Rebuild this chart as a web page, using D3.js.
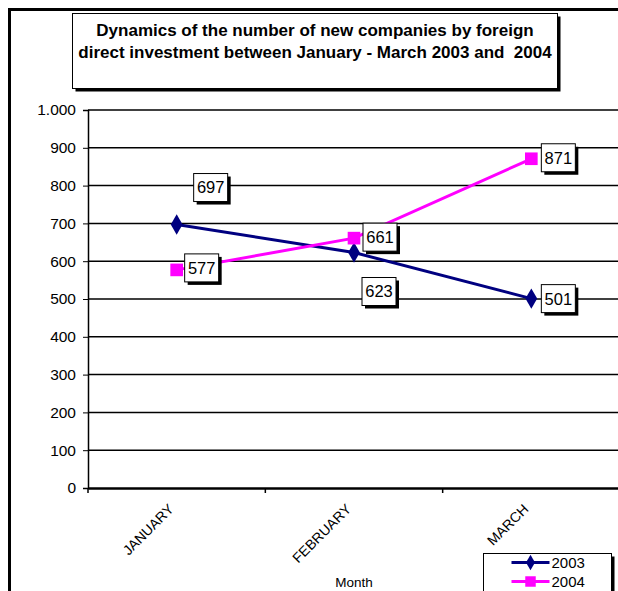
<!DOCTYPE html>
<html>
<head>
<meta charset="utf-8">
<script src="https://cdn.jsdelivr.net/npm/d3@7"></script>
<style>
  body { margin: 0; background: #fff; }
  svg { display: block; }
  svg text { font-family: "Liberation Sans", Arial, sans-serif; }
</style>
</head>
<body>
<div id="chart"></div>
<script>
// data
var months = ["JANUARY", "FEBRUARY", "MARCH"];
var values2003 = [697, 623, 501];
var values2004 = [577, 661, 871];
var yTicks = [0, 100, 200, 300, 400, 500, 600, 700, 800, 900, 1000];
var titleLines = ["Dynamics of the number of new companies by foreign",
                  "direct investment between January - March 2003 and  2004"];

const width = 618;
const height = 591;
const margin = { top: 110, bottom: 103, left: 88, right: -2 };

const series = [
  { name: "2003", values: values2003, color: "#000080", shape: d3.symbolDiamond,
    // label offsets (px) from the point, like the Excel picture
    offsets: [[34, -37], [25, 39], [27, 0]] },
  { name: "2004", values: values2004, color: "#FF00FF", shape: d3.symbolSquare,
    offsets: [[25, -2], [26, -1], [27, -1]] }
];

const svg = d3.select("#chart").append("svg")
  .attr("width", width)
  .attr("height", height);

// outer frame (cut off on the right / bottom)
svg.append("rect")
  .attr("x", 9.5).attr("y", 9.5)
  .attr("width", width + 20).attr("height", height + 20)
  .attr("fill", "none").attr("stroke", "#000").attr("stroke-width", 3);

const x = d3.scaleBand()
  .domain(months)
  .range([margin.left, width - margin.right]);

const y = d3.scaleLinear()
  .domain([0, 1000])
  .range([height - margin.bottom, margin.top]);

// gridlines
svg.append("g")
  .selectAll("line")
  .data(yTicks.filter(d => d > 0))
  .join("line")
    .attr("x1", margin.left).attr("x2", width)
    .attr("y1", d => y(d)).attr("y2", d => y(d))
    .attr("stroke", "#000").attr("stroke-width", 1.5);

// y axis
const yAxis = svg.append("g")
  .attr("transform", `translate(${margin.left},0)`)
  .call(d3.axisLeft(y).tickValues(yTicks).tickSize(5).tickPadding(7)
    .tickFormat(d => d === 1000 ? "1.000" : d3.format("d")(d)));
yAxis.attr("font-family", null);
yAxis.select(".domain").attr("stroke-width", 1.5);
yAxis.selectAll("text").attr("font-size", 15.5).attr("fill", "#000");

// x axis
const xAxis = svg.append("g")
  .attr("transform", `translate(0,${y(0)})`)
  .call(d3.axisBottom(x).tickSize(0).tickFormat(""));
xAxis.select(".domain").attr("stroke-width", 2.5);
// ticks at the band edges
svg.append("g")
  .selectAll("line")
  .data(months)
  .join("line")
    .attr("x1", d => x(d)).attr("x2", d => x(d))
    .attr("y1", y(0)).attr("y2", y(0) + 5)
    .attr("stroke", "#000").attr("stroke-width", 1.5);

svg.append("g")
  .selectAll("text")
  .data(months)
  .join("text")
    .attr("transform", d => `translate(${x(d) + x.bandwidth() / 2 - 2},${y(0) + 22}) rotate(-45)`)
    .attr("text-anchor", "end")
    .attr("font-size", 14)
    .text(d => d);

svg.append("text")
  .attr("x", x("FEBRUARY") + x.bandwidth() / 2)
  .attr("y", 587)
  .attr("text-anchor", "middle")
  .attr("font-size", 13.5)
  .text("Month");

// lines + markers
const line = d3.line()
  .x((d, i) => x(months[i]) + x.bandwidth() / 2)
  .y(d => y(d));

series.forEach(s => {
  svg.append("path")
    .datum(s.values)
    .attr("d", line)
    .attr("fill", "none")
    .attr("stroke", s.color)
    .attr("stroke-width", 3);

  svg.append("g")
    .selectAll("path")
    .data(s.values)
    .join("path")
      .attr("transform", (d, i) => `translate(${x(months[i]) + x.bandwidth() / 2},${y(d)})`)
      .attr("d", d3.symbol().type(s.shape).size(s.shape === d3.symbolSquare ? 160 : 120))
      .attr("fill", s.color);
});

// data labels (boxes with shadow)
series.forEach(s => {
  const g = svg.append("g")
    .selectAll("g")
    .data(s.values)
    .join("g")
      .attr("transform", (d, i) => `translate(${x(months[i]) + x.bandwidth() / 2 + s.offsets[i][0]},${y(d) + s.offsets[i][1]})`);
  const bw = 34, bh = 28;
  g.append("rect")
    .attr("x", -bw / 2 + 3).attr("y", -bh / 2 + 3)
    .attr("width", bw).attr("height", bh)
    .attr("fill", "#000");
  g.append("rect")
    .attr("x", -bw / 2).attr("y", -bh / 2)
    .attr("width", bw).attr("height", bh)
    .attr("fill", "#fff").attr("stroke", "#000").attr("stroke-width", 1);
  g.append("text")
    .attr("text-anchor", "middle")
    .attr("dy", "0.36em")
    .attr("font-size", 16.5)
    .text(d => d);
});

// title box
const tb = { x: 72.5, y: 13.5, w: 485, h: 75 };
svg.append("rect")
  .attr("x", tb.x + 3).attr("y", tb.y + 3)
  .attr("width", tb.w).attr("height", tb.h).attr("fill", "#000");
svg.append("rect")
  .attr("x", tb.x).attr("y", tb.y)
  .attr("width", tb.w).attr("height", tb.h)
  .attr("fill", "#fff").attr("stroke", "#000").attr("stroke-width", 1);
svg.append("g")
  .selectAll("text")
  .data(titleLines)
  .join("text")
    .attr("x", tb.x + tb.w / 2)
    .attr("y", (d, i) => 36 + i * 21.5)
    .attr("text-anchor", "middle")
    .attr("font-size", 17)
    .attr("font-weight", "bold")
    .text(d => d.replace(/  /g, "\u00a0 "));

// legend
const lg = svg.append("g").attr("transform", "translate(483.5,553.5)");
lg.append("rect").attr("x", 3).attr("y", 3).attr("width", 128).attr("height", 60).attr("fill", "#000");
lg.append("rect").attr("width", 128).attr("height", 60)
  .attr("fill", "#fff").attr("stroke", "#000").attr("stroke-width", 1);
series.forEach((s, i) => {
  const row = lg.append("g").attr("transform", `translate(0,${9 + i * 19})`);
  row.append("line").attr("x1", 28).attr("x2", 66)
    .attr("stroke", s.color).attr("stroke-width", 3);
  row.append("path")
    .attr("transform", "translate(47,0)")
    .attr("d", d3.symbol().type(s.shape).size(s.shape === d3.symbolSquare ? 110 : 70))
    .attr("fill", s.color);
  row.append("text").attr("x", 68).attr("dy", "0.36em")
    .attr("font-size", 15).text(s.name);
});
</script>
</body>
</html>
